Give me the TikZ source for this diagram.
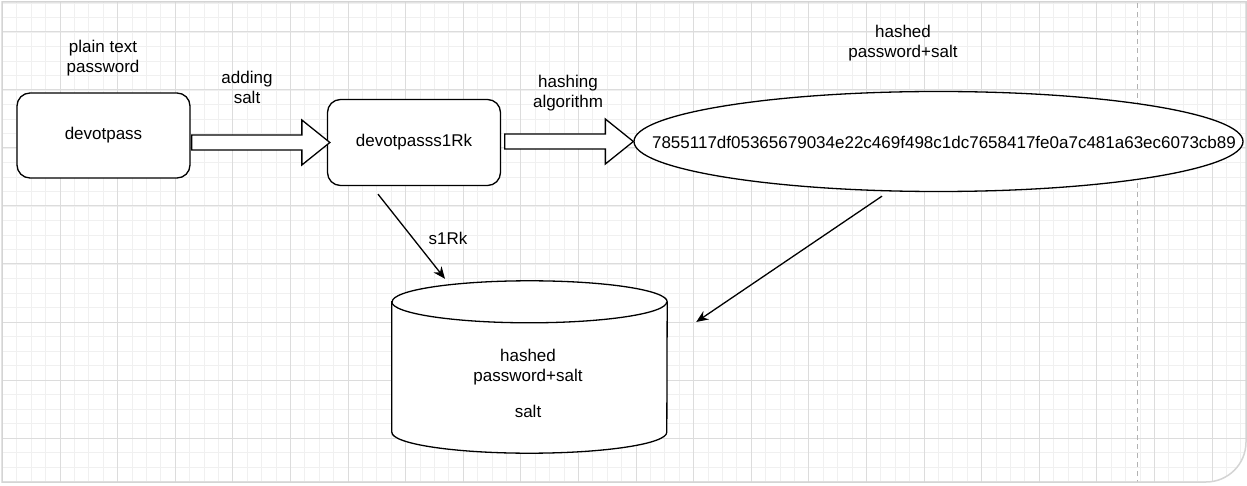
\documentclass[tikz,border=0pt]{standalone}
\usepackage{fontspec}
\setmainfont{Liberation Sans}
\usetikzlibrary{shapes.geometric,arrows.meta,calc}
\definecolor{minorgrid}{HTML}{F0F0F0}
\definecolor{majorgrid}{HTML}{DCDCDC}
\definecolor{framecol}{HTML}{D4D4D4}
\begin{document}
\begin{tikzpicture}[x=1pt,y=1pt,
  lbl/.style={font=\fontsize{17}{20}\selectfont, align=center, inner sep=0pt},
  box/.style={draw, line width=1.3pt, rounded corners=13pt, minimum width=173pt, minimum height=85pt, fill=white, inner sep=0pt, font=\fontsize{17}{20}\selectfont},
  conn/.style={line width=1.3pt, -{Stealth[length=12pt,width=10pt]}},
  barrow/.style={draw, line width=1.3pt, fill=white, line join=miter,
    to path={let \p1=(\tikztostart), \p2=(\tikztotarget) in
      (\x1,{\y2+7.5pt}) -- ({\x2-28pt},{\y2+7.5pt}) -- ({\x2-28pt},{\y2+22.5pt}) -- (\x2,\y2)
      -- ({\x2-28pt},{\y2-22.5pt}) -- ({\x2-28pt},{\y2-7.5pt}) -- (\x1,{\y2-7.5pt}) -- cycle}},
  minorline/.style={draw=minorgrid, line width=0.8pt},
  majorline/.style={draw=majorgrid, line width=1pt},
]
\useasboundingbox (0,0) rectangle (1247,485);
% frame and grid
\fill[white] (0,0) rectangle (1247,485);
\begin{scope}
\clip (2,3) -- (1206,3) arc[start angle=270, end angle=360, radius=40] -- (1246,483) -- (2,483) -- cycle;
\foreach \i in {0,...,86} \path[minorline] ({2.4+14.4*\i},0) -- ({2.4+14.4*\i},485);
\foreach \j in {0,...,33} \path[minorline] (0,{482-14.5*\j}) -- (1247,{482-14.5*\j});
\foreach \i in {0,...,21} \path[majorline] ({2.4+57.6*\i},0) -- ({2.4+57.6*\i},485);
\foreach \j in {0,...,7} \path[majorline] (0,{453-58*\j}) -- (1247,{453-58*\j});
\draw[gray!60, line width=1pt, dash pattern=on 5pt off 4pt] (1137,0) -- (1137,485);
\end{scope}
\draw[framecol, line width=1.5pt] (2,3) -- (1206,3) arc[start angle=270, end angle=360, radius=40] -- (1246,483) -- (2,483) -- cycle;

% nodes
\node[box] (b1) at (103.5,349.5) {devotpass};
\node[box, minimum height=86pt] (b2) at (414,342.5) {devotpasss1Rk};
\node[draw, ellipse, line width=1.3pt, minimum width=609pt, minimum height=100pt, inner sep=0pt, fill=white] (hash) at (938.5,343.5) {};
\node[lbl] (hashtxt) at (944,343) {7855117df05365679034e22c469f498c1dc7658417fe0a7c481a63ec6073cb89};

% cylinder
\node[minimum width=275pt, minimum height=172pt, inner sep=0pt] (db) at (529.5,118) {};
\draw[line width=1.3pt, fill=white]
  ($(db.north west)+(0,-21)$) -- ($(db.south west)+(0,21)$)
  arc[start angle=180, end angle=360, x radius=137.5, y radius=21]
  -- ($(db.north east)+(0,-21)$)
  arc[start angle=0, end angle=180, x radius=137.5, y radius=21] -- cycle;
\draw[line width=1.3pt] ($(db.north west)+(0,-21)$) arc[start angle=180, end angle=360, x radius=137.5, y radius=21];
\node[lbl] (dbt1) at (528,117.5) {hashed\\password+salt};
\node[lbl] (dbt2) at (528,74) {salt};

% labels
\node[lbl] (l1) at (103,427) {plain text\\password};
\node[lbl] (l2) at (247,398) {adding\\salt};
\node[lbl] (l3) at (568,392) {hashing\\algorithm};
\node[lbl] (l4) at (903,442) {hashed\\password+salt};
\node[lbl] (l5) at (448,247) {s1Rk};

% block arrows
\draw[barrow] ([xshift=1pt]b1.east |- b2.west) to ([xshift=3pt]b2.west);
\draw[barrow] ([xshift=3.5pt]b2.east) to (hash.west);

% connectors
\coordinate (s1) at ([xshift=-36pt,yshift=-8pt]b2.south);
\coordinate (s2) at ([xshift=-84.5pt,yshift=2pt]db.north);
\draw[conn] (s1) -- (s2);
\coordinate (h1) at ([xshift=-56.5pt,yshift=-4pt]hash.south);
\coordinate (h2) at ([xshift=29pt,yshift=45pt]db.east);
\draw[conn] (h1) -- (h2);
\end{tikzpicture}
\end{document}
